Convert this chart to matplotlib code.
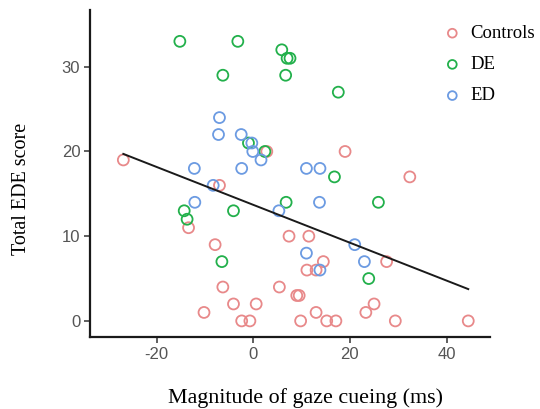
import numpy as np
import matplotlib.pyplot as plt

plt.rcParams["axes.unicode_minus"] = False

# values
ctrl_x = [-26.9, -7.0, -13.4, -7.9, -6.3, -10.2, -4.1, -2.4, -0.7, 0.6, 5.4, 7.4,
          9.0, 9.5, 9.8, 11.5, 11.1, 13.0, 14.5, 13.0, 15.2, 17.1, 23.3, 25.0,
          27.6, 29.4, 44.5, 32.4, 19.0, 2.8]
ctrl_y = [19, 16, 11, 9, 4, 1, 2, 0, 0, 2, 4, 10,
          3, 3, 0, 10, 6, 6, 7, 1, 0, 0, 1, 2,
          7, 0, 0, 17, 20, 20]

de_x = [-15.2, -3.2, 5.9, 7.0, 7.6, -6.3, 6.7, 17.6, -1.0, 2.4, 6.8, -4.1,
        -14.3, -13.7, -6.5, 16.8, 25.9, 23.9]
de_y = [33, 33, 32, 31, 31, 29, 29, 27, 21, 20, 14, 13,
        13, 12, 7, 17, 14, 5]

ed_x = [-7.0, -7.2, -2.5, -0.3, -0.1, 1.6, -12.2, -2.4, 11.0, 13.8, -8.3, -12.1,
        5.3, 11.0, 13.7, 21.0, 23.0, 13.8]
ed_y = [24, 22, 22, 21, 20, 19, 18, 18, 18, 18, 16, 14,
        13, 8, 14, 9, 7, 6]

groups = ["Controls", "DE", "ED"]
colors = ["#E8898A", "#22B04B", "#6C9BE2"]

# fitted line (intercept, slope) as drawn in the reference
fit_b0, fit_b1 = 13.7, -0.2235

fig = plt.figure(figsize=(5.4, 4.09), dpi=100)
ax = fig.add_axes([90 / 540, 1 - 337 / 409, 400 / 540, 327 / 409])

for gx, gy, name, c in zip([ctrl_x, de_x, ed_x], [ctrl_y, de_y, ed_y], groups, colors):
    ax.scatter(gx, gy, s=62, facecolors="none", edgecolors=c, linewidths=1.3,
               label=name, zorder=3)

all_x = np.array(ctrl_x + de_x + ed_x)
lx = np.array([all_x.min(), all_x.max()])
ax.plot(lx, fit_b0 + fit_b1 * lx, color="#1a1a1a", lw=1.4, zorder=4)

ax.set_xlim(-33.8, 49)
ax.set_ylim(-1.9, 36.7)
ax.set_xticks([-20, 0, 20, 40])
ax.set_yticks([0, 10, 20, 30])
for s in ["top", "right"]:
    ax.spines[s].set_visible(False)
for s in ["left", "bottom"]:
    ax.spines[s].set_linewidth(1.6)
    ax.spines[s].set_color("#1a1a1a")
ax.tick_params(length=4, width=1.1, color="#333333", labelcolor="#555555",
               labelsize=12, pad=3)
for lab in ax.get_xticklabels() + ax.get_yticklabels():
    lab.set_family("Liberation Sans")

ax.set_xlabel("Magnitude of gaze cueing (ms)", family="Liberation Serif",
              fontsize=15.8, va="center")
ax.set_ylabel("Total EDE score", family="Liberation Serif", fontsize=14.5,
              va="center")
ax.xaxis.set_label_coords(0.54, -0.187)
ax.yaxis.set_label_coords(-0.17, 0.453)

leg = ax.legend(loc="upper left", bbox_to_anchor=(442 / 540, 1 - 25 / 409),
                bbox_transform=fig.transFigure, frameon=False, markerscale=0.8,
                borderpad=0, borderaxespad=0,
                handletextpad=0.4, labelspacing=0.75, handlelength=1.1,
                prop={"family": "Liberation Serif", "size": 13.5})

fig.savefig("out.png", dpi=100)
